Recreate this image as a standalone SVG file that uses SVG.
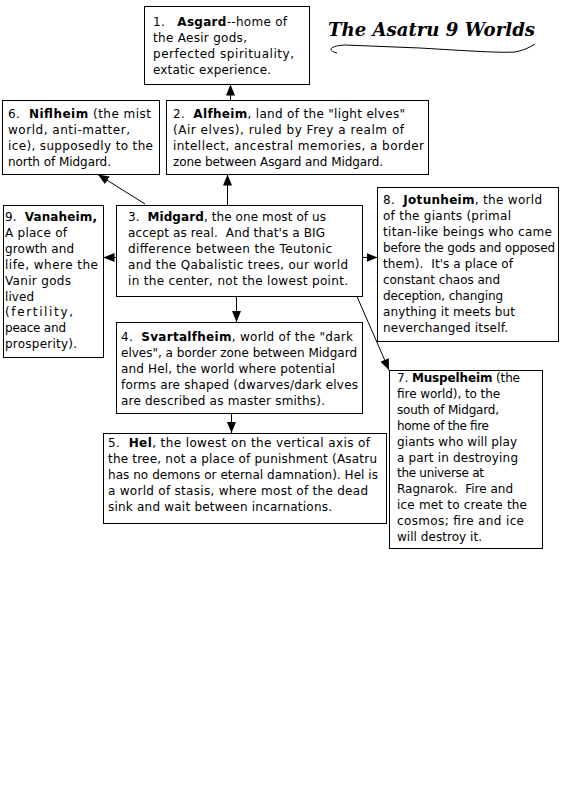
<svg xmlns="http://www.w3.org/2000/svg" width="576" height="800" viewBox="0 0 576 800">
<style>
.box{fill:#fff;stroke:#000;stroke-width:1}
.t{font-family:"DejaVu Sans","Verdana",sans-serif;font-size:12px;fill:#000;white-space:pre}
.b{font-weight:bold}
.c{fill:none;stroke:#000;stroke-width:1}
.title{font-family:"DejaVu Serif","Liberation Serif",serif;font-style:italic;font-weight:bold;font-size:19px;fill:#000}
</style>
<defs>
<marker id="ah" markerUnits="userSpaceOnUse" markerWidth="11" markerHeight="9" refX="11" refY="4.5" orient="auto"><path d="M0,0 L11,4.5 L0,9 z" fill="#000"/></marker>
</defs>
<rect width="576" height="800" fill="#fff"/>
<g id="title">
<text class="title" x="328" y="36" textLength="207" lengthAdjust="spacingAndGlyphs">The Asatru 9 Worlds</text>
<path class="c" d="M337,53 C328,51 328,46 345,45 L420,48 C470,51 500,53 515,52 C525,50 530,47 535,44"/>
</g>
<g id="connectors">
<path class="c" d="M230.5,100 V84.5" marker-end="url(#ah)"/>
<path class="c" d="M227.5,205.5 V174.5" marker-end="url(#ah)"/>
<path class="c" d="M145,204 L98,174.5" marker-end="url(#ah)"/>
<path class="c" d="M116,257.5 H103.5" marker-end="url(#ah)"/>
<path class="c" d="M362,257.5 H377.5" marker-end="url(#ah)"/>
<path class="c" d="M236.5,296.5 V322" marker-end="url(#ah)"/>
<path class="c" d="M231.5,413.5 V433" marker-end="url(#ah)"/>
<path class="c" d="M357,296.5 L389,370" marker-end="url(#ah)"/>
</g>
<g id="asgard">
<rect class="box" x="144.5" y="6.5" width="165" height="78"/>
<text class="t" x="153" y="26" textLength="134">1.&#160;&#160; <tspan class="b">Asgard</tspan>--home of</text>
<text class="t" x="153" y="41.9" textLength="94">the Aesir gods,</text>
<text class="t" x="153" y="57.8" textLength="141">perfected spirituality,</text>
<text class="t" x="153" y="73.7" textLength="118">extatic experience.</text>
</g>
<g id="niflheim">
<rect class="box" x="2.5" y="100.5" width="157" height="74"/>
<text class="t" x="8" y="118" textLength="143">6.&#160; <tspan class="b">Niflheim</tspan> (the mist</text>
<text class="t" x="8" y="133.9" textLength="122">world, anti-matter,</text>
<text class="t" x="8" y="149.8" textLength="145">ice), supposedly to the</text>
<text class="t" x="8" y="165.7" textLength="103">north of Midgard.</text>
</g>
<g id="alfheim">
<rect class="box" x="166.5" y="100.5" width="262" height="74"/>
<text class="t" x="173" y="118" textLength="232">2.&#160; <tspan class="b">Alfheim</tspan>, land of the "light elves"</text>
<text class="t" x="173" y="133.9" textLength="231">(Air elves), ruled by Frey a realm of</text>
<text class="t" x="173" y="149.8" textLength="251">intellect, ancestral memories, a border</text>
<text class="t" x="173" y="165.7" textLength="210">zone between Asgard and Midgard.</text>
</g>
<g id="midgard">
<rect class="box" x="116.5" y="205.5" width="246" height="91"/>
<text class="t" x="128" y="221" textLength="198">3.&#160; <tspan class="b">Midgard</tspan>, the one most of us</text>
<text class="t" x="128" y="236.9" textLength="197">accept as real.&#160; And that's a BIG</text>
<text class="t" x="128" y="252.8" textLength="204">difference between the Teutonic</text>
<text class="t" x="128" y="268.7" textLength="220">and the Qabalistic trees, our world</text>
<text class="t" x="128" y="284.6" textLength="220">in the center, not the lowest point.</text>
</g>
<g id="vanaheim">
<rect class="box" x="3.5" y="205.5" width="100" height="152"/>
<text class="t" x="5" y="221" textLength="92">9.&#160; <tspan class="b">Vanaheim,</tspan></text>
<text class="t" x="5" y="236.9" textLength="62">A place of</text>
<text class="t" x="5" y="252.8" textLength="69">growth and</text>
<text class="t" x="5" y="268.7" textLength="93">life, where the</text>
<text class="t" x="5" y="284.6" textLength="66">Vanir gods</text>
<text class="t" x="5" y="300.5" textLength="29">lived</text>
<text class="t" x="5" y="316.4" textLength="68">(fertility,</text>
<text class="t" x="5" y="332.3" textLength="61">peace and</text>
<text class="t" x="5" y="348.2" textLength="72">prosperity).</text>
</g>
<g id="jotunheim">
<rect class="box" x="377.5" y="187.5" width="181" height="154"/>
<text class="t" x="383" y="203.5" textLength="159">8.&#160; <tspan class="b">Jotunheim</tspan>, the world</text>
<text class="t" x="383" y="219.5" textLength="128">of the giants (primal</text>
<text class="t" x="383" y="235.5" textLength="169">titan-like beings who came</text>
<text class="t" x="383" y="251.5" textLength="172">before the gods and opposed</text>
<text class="t" x="383" y="267.5" textLength="130">them).&#160; It's a place of</text>
<text class="t" x="383" y="283.5" textLength="117">constant chaos and</text>
<text class="t" x="383" y="299.5" textLength="120">deception, changing</text>
<text class="t" x="383" y="315.5" textLength="132">anything it meets but</text>
<text class="t" x="383" y="331.5" textLength="125">neverchanged itself.</text>
</g>
<g id="svartalfheim">
<rect class="box" x="116.5" y="322.5" width="246" height="91"/>
<text class="t" x="121" y="341" textLength="232">4.&#160; <tspan class="b">Svartalfheim</tspan>, world of the "dark</text>
<text class="t" x="121" y="356.9" textLength="236">elves", a border zone between Midgard</text>
<text class="t" x="121" y="372.8" textLength="214">and Hel, the world where potential</text>
<text class="t" x="121" y="388.7" textLength="237">forms are shaped (dwarves/dark elves</text>
<text class="t" x="121" y="404.6" textLength="204">are described as master smiths).</text>
</g>
<g id="hel">
<rect class="box" x="103.5" y="433.5" width="283" height="90"/>
<text class="t" x="108" y="447" textLength="262">5.&#160; <tspan class="b">Hel</tspan>, the lowest on the vertical axis of</text>
<text class="t" x="108" y="462.9" textLength="269">the tree, not a place of punishment (Asatru</text>
<text class="t" x="108" y="478.8" textLength="270">has no demons or eternal damnation). Hel is</text>
<text class="t" x="108" y="494.7" textLength="260">a world of stasis, where most of the dead</text>
<text class="t" x="108" y="510.6" textLength="224">sink and wait between incarnations.</text>
</g>
<g id="muspelheim">
<rect class="box" x="389.5" y="370.5" width="153" height="178"/>
<text class="t" x="397" y="382" textLength="123">7. <tspan class="b">Muspelheim</tspan> (the</text>
<text class="t" x="397" y="397.9" textLength="103">fire world), to the</text>
<text class="t" x="397" y="413.8" textLength="102">south of Midgard,</text>
<text class="t" x="397" y="429.7" textLength="92">home of the fire</text>
<text class="t" x="397" y="445.6" textLength="120">giants who will play</text>
<text class="t" x="397" y="461.5" textLength="121">a part in destroying</text>
<text class="t" x="397" y="477.4" textLength="87">the universe at</text>
<text class="t" x="397" y="493.3" textLength="116">Ragnarok.&#160; Fire and</text>
<text class="t" x="397" y="509.2" textLength="130">ice met to create the</text>
<text class="t" x="397" y="525.1" textLength="127">cosmos; fire and ice</text>
<text class="t" x="397" y="541" textLength="85">will destroy it.</text>
</g>
</svg>
